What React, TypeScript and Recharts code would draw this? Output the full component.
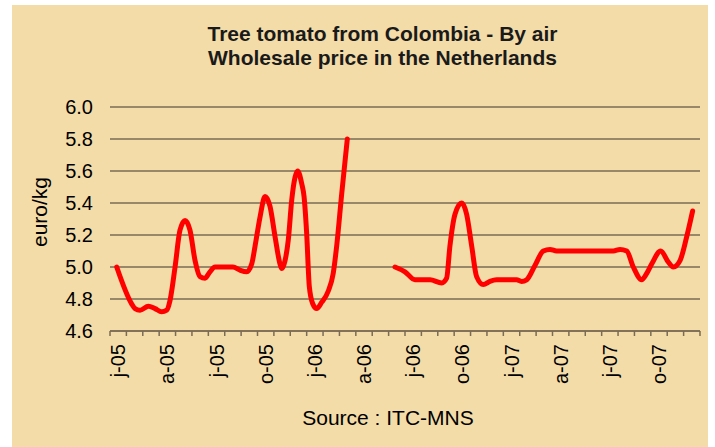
import { LineChart, Line, XAxis, YAxis, CartesianGrid } from "recharts";

// position in months from Jan 2005 (0 = start of Jan 05)
const monthPos = [
  0.41, 1.32, 1.53, 1.83, 2.34, 2.75, 3.15, 3.46, 3.66, 3.97, 4.27, 4.58, 4.88,
  5.19, 5.49, 5.8, 6.1, 6.41, 7.5, 7.93, 8.34, 8.65, 8.85, 9.15, 9.46, 9.76,
  10.07, 10.37, 10.48, 10.68, 10.88, 11.09, 11.29, 11.45, 11.7, 11.84, 12.0,
  12.16, 12.37, 12.61, 12.92, 13.32, 13.62, 13.83, 14.14, 14.48,
  // gap (no data)
  15.9,
  17.39, 18.0, 18.61, 19.53, 20.24, 20.54, 20.74, 21.05, 21.46, 21.76, 22.07,
  22.37, 22.78, 23.18, 23.59, 24.81, 25.11, 25.42, 25.93, 26.44, 26.85, 27.25,
  30.71, 31.12, 31.53, 31.93, 32.44, 32.75, 33.06, 33.6, 34.07, 34.37, 34.78,
  35.19, 35.55,
];

const priceEurKg = [
  5.0, 4.77, 4.74, 4.73, 4.755, 4.74, 4.72, 4.73, 4.79, 5.0, 5.23, 5.29, 5.23,
  5.04, 4.94, 4.93, 4.97, 5.0, 5.0, 4.98, 4.97, 5.02, 5.13, 5.31, 5.44, 5.38,
  5.19, 5.02, 4.99, 5.04, 5.17, 5.42, 5.56, 5.6, 5.52, 5.44, 5.21,
  4.88, 4.77, 4.74, 4.78, 4.85, 4.96, 5.13, 5.46, 5.8,
  null,
  5.0, 4.97, 4.92, 4.92, 4.9, 4.93, 5.13, 5.33, 5.4, 5.33, 5.13,
  4.94, 4.89, 4.91, 4.92, 4.92, 4.91, 4.92, 5.01, 5.1, 5.11, 5.1,
  5.1, 5.11, 5.1, 5.0, 4.92, 4.96, 5.02, 5.1, 5.03, 5.0, 5.04,
  5.19, 5.35,
];

const quarterLabels = [
  "j-05", "a-05", "j-05", "o-05",
  "j-06", "a-06", "j-06", "o-06",
  "j-07", "a-07", "j-07", "o-07",
];

const yTicks = [4.6, 4.8, 5.0, 5.2, 5.4, 5.6, 5.8, 6.0];

const data = monthPos.map((m, i) => ({ m, price: priceEurKg[i] }));
const monthTicks = Array.from({ length: 37 }, (_, i) => i);

const FONT = "'Liberation Sans', Arial, sans-serif";
const PLOT_LEFT = 110;
const PLOT_RIGHT = 700;
const MONTH_W = (PLOT_RIGHT - PLOT_LEFT) / 36;

const MonthTick = (props: any) => {
  const { x, y, payload } = props;
  const v = payload.value;
  if (v % 3 !== 0 || v >= 36) return null;
  const cx = x + MONTH_W / 2;
  const ty = y + 6;
  return (
    <text
      x={cx}
      y={ty}
      transform={`rotate(-90 ${cx} ${ty})`}
      textAnchor="end"
      dominantBaseline="central"
      fontSize={20}
      fontFamily={FONT}
      fill="#000"
    >
      {quarterLabels[v / 3]}
    </text>
  );
};

export default function App() {
  return (
    <div style={{ position: "relative", width: 715, height: 447, background: "#fff" }}>
      <style>{`body{margin:0}`}</style>
      <div
        style={{
          position: "absolute",
          left: 12,
          top: 5,
          width: 696,
          height: 442,
          background: "#F3DCA8",
        }}
      />
      <div
        style={{
          position: "absolute",
          left: 0,
          top: 22,
          width: 765,
          textAlign: "center",
          fontFamily: FONT,
          fontWeight: "bold",
          fontSize: 21,
          lineHeight: "24px",
          color: "#1a1a1a",
        }}
      >
        Tree tomato from Colombia - By air
        <br />
        Wholesale price in the Netherlands
      </div>
      <div
        style={{
          position: "absolute",
          left: 40,
          top: 212,
          transform: "translate(-50%, -50%) rotate(-90deg)",
          fontFamily: FONT,
          fontSize: 21,
          color: "#000",
          whiteSpace: "nowrap",
        }}
      >
        euro/kg
      </div>
      <div
        style={{
          position: "absolute",
          left: 0,
          top: 406,
          width: 776,
          textAlign: "center",
          fontFamily: FONT,
          fontSize: 21,
          color: "#000",
        }}
      >
        Source : ITC-MNS
      </div>
      <div style={{ position: "absolute", left: 0, top: 0 }}>
        <LineChart
          width={715}
          height={447}
          data={data}
          margin={{ top: 107, right: 715 - PLOT_RIGHT, bottom: 56, left: 0 }}
        >
          <CartesianGrid
            horizontal
            vertical={false}
            stroke="#7A6B55"
            strokeWidth={1.5}
          />
          <XAxis
            dataKey="m"
            type="number"
            domain={[0, 36]}
            ticks={monthTicks}
            interval={0}
            height={60}
            axisLine={{ stroke: "#7A6B55", strokeWidth: 1.5 }}
            tickLine={{ stroke: "#7A6B55", strokeWidth: 1.5 }}
            tickSize={5}
            tick={<MonthTick />}
          />
          <YAxis
            type="number"
            domain={[4.6, 6.0]}
            ticks={yTicks}
            interval={0}
            width={PLOT_LEFT}
            axisLine={false}
            tickLine={false}
            tickMargin={11}
            tickFormatter={(v: number) => v.toFixed(1)}
            tick={{ fill: "#000", fontSize: 20, fontFamily: FONT }}
          />
          <Line
            dataKey="price"
            type="monotone"
            stroke="#FF0000"
            strokeWidth={5}
            strokeLinecap="round"
            strokeLinejoin="round"
            dot={false}
            connectNulls={false}
            isAnimationActive={false}
          />
        </LineChart>
      </div>
    </div>
  );
}
